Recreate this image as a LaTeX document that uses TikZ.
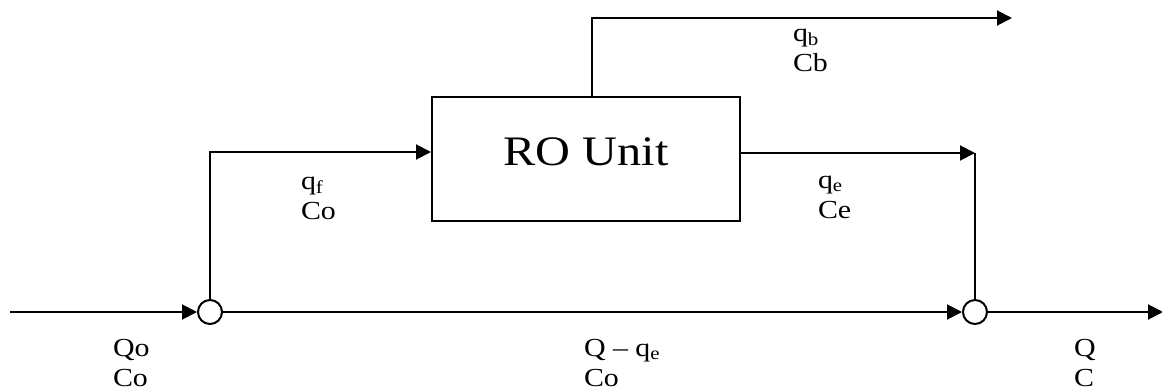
\documentclass[tikz,border=0pt]{standalone}
\usepackage{fontspec}
\setmainfont{Liberation Serif}[FakeStretch=1.15]
\usetikzlibrary{arrows.meta}
\begin{document}
\begin{tikzpicture}[x=1pt,y=-1pt, line width=2pt,
  flow/.style={-{Triangle[length=15pt,width=15pt]}},
  junction/.style={circle, draw, fill=white, minimum size=24pt, inner sep=0pt},
  unit/.style={draw, minimum width=308pt, minimum height=124pt, inner sep=0pt, text depth=14pt, font=\fontsize{42}{48}\selectfont},
  lbl/.style={align=left, anchor=base west, inner sep=0pt, font=\fontsize{26}{30}\selectfont}]
\useasboundingbox (0,0) rectangle (1162,391);

\node[junction] (j1) at (210,312) {};
\node[junction] (j2) at (975,312) {};
\node[unit] (ro) at (586,159) {RO Unit};
\coordinate (src) at (10,312);
\coordinate (sink) at (1163,312);
\coordinate (corner) at (975,153);
\coordinate (brine) at (1012,18);

\draw[flow] (src) -- (j1);
\draw[flow] (j1) -- (j2);
\draw[flow] (j2) -- (sink);
\draw[flow] (j1) |- (ro.west |- 0,152);
\draw[flow] (ro.east |- 0,153) -- (corner);
\draw (corner) -- (j2);
\draw[flow] (ro.north -| 592,0) |- (brine);

\node[lbl] (lf) at (300,219) {q\textsubscript{f}\\Co};
\node[lbl] (le) at (817,218) {q\textsubscript{e}\\Ce};
\node[lbl] (lb) at (792,71) {q\textsubscript{b}\\Cb};
\node[lbl] (l0) at (112,386) {Qo\\Co};
\node[lbl] (lm) at (583,386) {Q – q\textsubscript{e}\\Co};
\node[lbl] (lq) at (1073,386) {Q\\C};
\end{tikzpicture}
\end{document}
